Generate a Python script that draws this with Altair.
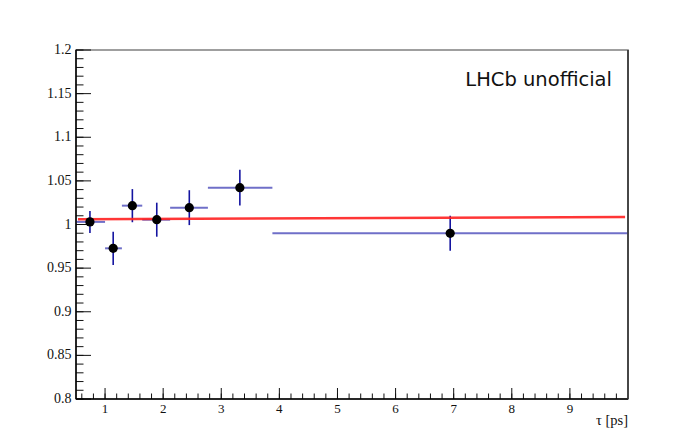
import altair as alt
import pandas as pd

# ---- data ----
tau = [0.74, 1.14, 1.47, 1.89, 2.45, 3.32, 6.94]
tau_lo = [0.5, 1.0, 1.29, 1.64, 2.12, 2.77, 3.88]
tau_hi = [1.0, 1.29, 1.64, 2.12, 2.77, 3.88, 10.0]
ratio = [1.003, 0.9727, 1.0216, 1.0055, 1.0193, 1.0422, 0.9899]
ratio_err = [0.0126, 0.019, 0.019, 0.0195, 0.020, 0.0205, 0.020]

fit_x = [0.534, 9.95]
fit_y = [1.006, 1.0086]

x_major = [1, 2, 3, 4, 5, 6, 7, 8, 9]
x_labels = ["1", "2", "3", "4", "5", "6", "7", "8", "9"]
x_minor = [round(0.6 + 0.2 * i, 1) for i in range(47)]
y_major = [0.8, 0.85, 0.9, 0.95, 1.0, 1.05, 1.1, 1.15, 1.2]
y_labels = ["0.8", "0.85", "0.9", "0.95", "1", "1.05", "1.1", "1.15", "1.2"]
y_minor = [round(0.8 + 0.01 * i, 2) for i in range(41)]

label_text = "LHCb unofficial"
x_title = "τ [ps]"

df = pd.DataFrame({
    "tau": tau, "lo": tau_lo, "hi": tau_hi, "r": ratio,
    "rlo": [r - e for r, e in zip(ratio, ratio_err)],
    "rhi": [r + e for r, e in zip(ratio, ratio_err)],
})
fit_df = pd.DataFrame({"x": [fit_x[0]], "x2": [fit_x[1]], "y": [fit_y[0]], "y2": [fit_y[1]]})
xt_df = pd.DataFrame({"v": x_major, "lab": x_labels})
yt_df = pd.DataFrame({"v": y_major, "lab": y_labels})

W, H = 552, 349
xs = alt.Scale(domain=[0.5, 10], nice=False, zero=False)
ys = alt.Scale(domain=[0.8, 1.2], nice=False, zero=False)
SERIF = "'Liberation Serif', 'Times New Roman', Times, serif"
TICK = "#111111"


def X(f):
    return alt.X(f, scale=xs, axis=None)


def Y(f):
    return alt.Y(f, scale=ys, axis=None)


base = alt.Chart(df)
one = alt.Chart(pd.DataFrame({"k": [0]}))

# frame sides (left/bottom black, right dark grey; top comes from the view stroke)
left_side = one.mark_rule(color="#000", strokeWidth=1.5).encode(
    x=alt.value(0), y=alt.value(0), y2=alt.value(H))
bottom_side = one.mark_rule(color="#000", strokeWidth=1.5).encode(
    x=alt.value(0), x2=alt.value(W), y=alt.value(H))
right_side = one.mark_rule(color="#333", strokeWidth=1.6).encode(
    x=alt.value(W), y=alt.value(0), y2=alt.value(H))

# inward ROOT-style ticks and labels, drawn from the tick lists
xmaj = alt.Chart(xt_df).mark_rule(color=TICK, strokeWidth=1).encode(
    x=X("v:Q"), y=alt.value(H), y2=alt.value(H - 11))
xmin = alt.Chart(pd.DataFrame({"v": x_minor})).mark_rule(color=TICK, strokeWidth=1).encode(
    x=X("v:Q"), y=alt.value(H), y2=alt.value(H - 5.5))
ymaj = alt.Chart(yt_df).mark_rule(color=TICK, strokeWidth=1).encode(
    y=Y("v:Q"), x=alt.value(0), x2=alt.value(15))
ymin = alt.Chart(pd.DataFrame({"v": y_minor})).mark_rule(color=TICK, strokeWidth=1).encode(
    y=Y("v:Q"), x=alt.value(0), x2=alt.value(7.5))

xlab = alt.Chart(xt_df).mark_text(font=SERIF, fontSize=13, color="#111",
                                  align="center", baseline="top").encode(
    x=X("v:Q"), y=alt.value(H + 3.5), text="lab:N")
ylab = alt.Chart(yt_df).mark_text(font=SERIF, fontSize=14, color="#111",
                                  align="right", baseline="middle").encode(
    y=Y("v:Q"), x=alt.value(-4.5), text="lab:N")
xtit = alt.Chart(pd.DataFrame({"t": [x_title]})).mark_text(
    font=SERIF, fontSize=14.5, color="#111", align="right", baseline="alphabetic").encode(
    text="t:N", x=alt.value(W), y=alt.value(H + 26))

hbar = base.mark_rule(color="#6f6fc8", strokeWidth=2).encode(
    x=X("lo:Q"), x2="hi:Q", y=Y("r:Q"))

vbar = base.mark_rule(color="#1414a0", strokeWidth=1.6).encode(
    x=X("tau:Q"), y=Y("rlo:Q"), y2="rhi:Q")

fit = alt.Chart(fit_df).mark_rule(color="#ff2020", strokeWidth=2.4, opacity=0.9).encode(
    x=X("x:Q"), x2="x2:Q", y=Y("y:Q"), y2="y2:Q")

pts = base.mark_circle(color="black", opacity=1, size=85).encode(
    x=X("tau:Q"), y=Y("r:Q"))

txt = alt.Chart(pd.DataFrame({"t": [label_text]})).mark_text(
    font="DejaVu Sans", fontSize=19.5, align="right", baseline="alphabetic", color="#111"
).encode(text="t:N", x=alt.value(536), y=alt.value(35.5))

chart = alt.layer(xmaj, xmin, ymaj, ymin, xlab, ylab, xtit,
                  hbar, vbar, fit, pts, txt, left_side, bottom_side, right_side).properties(
    width=W, height=H,
    autosize=alt.AutoSizeParams(type="none"),
    padding={"left": 68, "top": 42, "right": 54, "bottom": 31},
    background="white",
).configure_view(stroke="#808080", strokeWidth=1.6)

chart.save("out.html", embed_options={"renderer": "svg", "actions": False})
